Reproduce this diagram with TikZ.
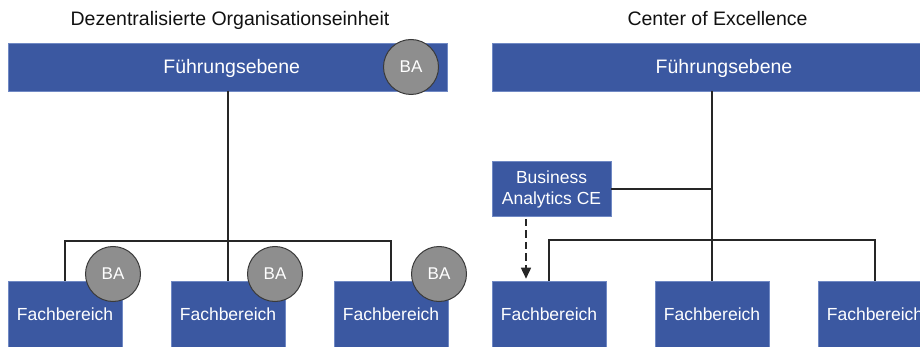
\documentclass[tikz,border=0pt]{standalone}
\usepackage{fontspec}
\setmainfont{Liberation Sans}
\usetikzlibrary{arrows.meta}
\definecolor{boxblue}{HTML}{3B58A1}
\definecolor{boxedge}{HTML}{7089C4}
\definecolor{bagray}{HTML}{8E8E8E}
\definecolor{badraw}{HTML}{3A3A3A}
\definecolor{linecol}{HTML}{262626}
\definecolor{titlecol}{HTML}{111111}

\begin{document}
\begin{tikzpicture}[x=1pt,y=-1pt,
  unitbox/.style={rectangle, fill=boxblue, draw=boxedge, line width=0.6pt, inner sep=0pt,
    text=white, font=\fontsize{17.5}{21}\selectfont, align=center},
  headbox/.style={rectangle, fill=boxblue, draw=boxedge, line width=0.6pt, inner sep=0pt,
    minimum height=48pt},
  headtext/.style={anchor=base, inner sep=0pt, text=white, font=\fontsize{19.5}{23}\selectfont},
  title/.style={anchor=base, inner sep=0pt, text=titlecol, font=\fontsize{19.5}{23}\selectfont},
  fach/.style={unitbox, minimum width=114pt, minimum height=66pt},
  badge/.style={circle, fill=bagray, draw=badraw, line width=1pt, minimum size=55pt,
    inner sep=0pt, text=white, font=\fontsize{17}{20}\selectfont},
  link/.style={draw=linecol, line width=1.6pt},
  support/.style={draw=linecol, line width=1.6pt, dash pattern=on 7.5pt off 4pt,
    -{Triangle[length=11pt,width=10pt]}}
]
\useasboundingbox (0,0) rectangle (920,347);
\clip (0,0) rectangle (920,347);

% --- decentralised organisation unit ---
\node[title] (tL) at (230,26) {Dezentralisierte Organisationseinheit};
\node[headbox, minimum width=439pt] (hL) at (227.5,67) {};
\node[headtext] (hLt) at (231.7,74) {Führungsebene};
\node[fach] (fL1) at (65,314) {Fachbereich};
\node[fach] (fL2) at (228,314) {Fachbereich};
\node[fach] (fL3) at (391,314) {Fachbereich};
\coordinate (busL) at (228,241);
\draw[link] (hL.south -| fL2.north) -- (fL2.north);
\draw[link] (fL1.north) |- (busL) -| (fL3.north);

\node[badge] (bH) at (411,67) {BA};
\node[badge] (b1) at (113,274) {BA};
\node[badge] (b2) at (275,274) {BA};
\node[badge] (b3) at (439,274) {BA};

% --- center of excellence ---
\node[title] (tR) at (717.5,26) {Center of Excellence};
\node[headbox, minimum width=464pt] (hR) at (724,67) {};
\node[headtext] (hRt) at (724,74) {Führungsebene};
\node[unitbox, minimum width=119pt, minimum height=55pt] (ce) at (551.5,189) {Business\\Analytics CE};
\node[fach] (fR1) at (549,314) {Fachbereich};
\node[fach] (fR2) at (712,314) {Fachbereich};
\node[fach] (fR3) at (875,314) {Fachbereich};
\coordinate (busR) at (712,240);
\draw[link] (hR.south -| fR2.north) -- (fR2.north);
\draw[link] (fR1.north) |- (busR) -| (fR3.north);
\draw[link] (ce.east) -- (ce.east -| fR2.north);

\coordinate (ax) at (526,0);
\coordinate (aS) at (ce.south -| ax);
\coordinate (aE) at (fR1.north -| ax);
\draw[support] ([yshift=-2pt]aS) -- ([yshift=2pt]aE);
\end{tikzpicture}
\end{document}
